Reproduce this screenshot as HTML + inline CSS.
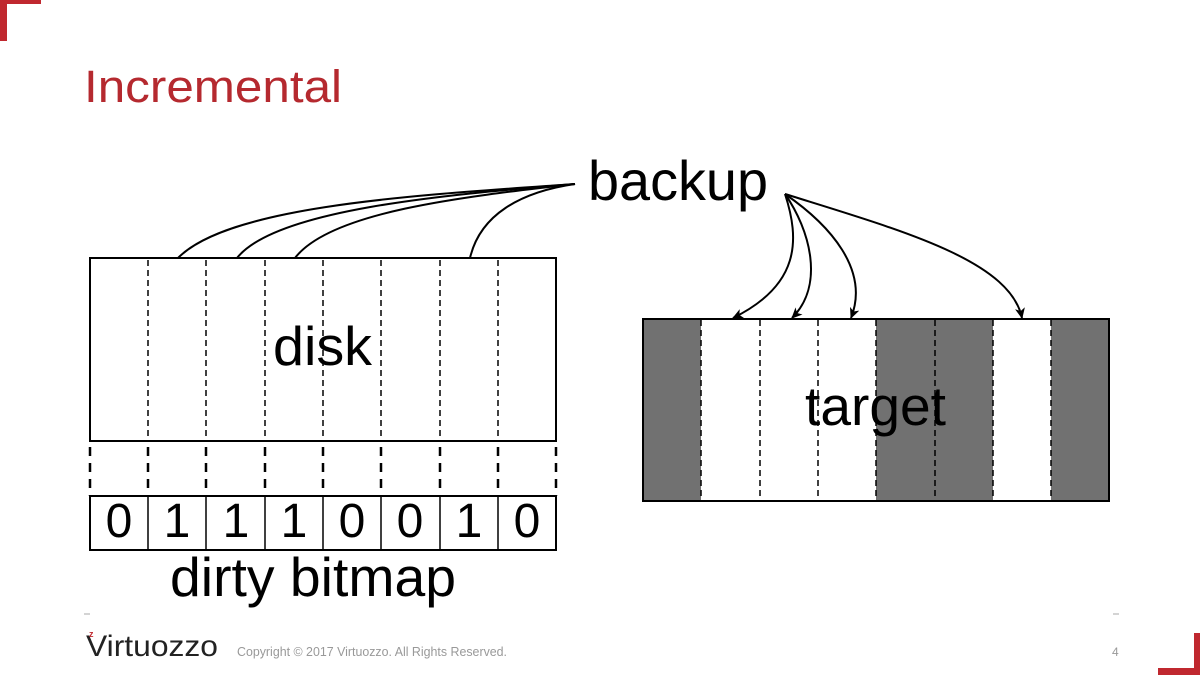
<!DOCTYPE html>
<html><head><meta charset="utf-8"><style>
html,body{margin:0;padding:0;background:#fff;}
svg{display:block;}
</style></head><body>
<svg width="1200" height="675" viewBox="0 0 1200 675" xmlns="http://www.w3.org/2000/svg">
<defs>
<marker id="ah" markerWidth="12" markerHeight="12" refX="10" refY="5" orient="auto" markerUnits="userSpaceOnUse">
<path d="M0,0 L11,5 L0,10 L3,5 Z" fill="#000"/>
</marker>
</defs>
<rect x="0" y="0" width="7" height="41" fill="#c0282f"/>
<rect x="0" y="0" width="41" height="4" fill="#c0282f"/>
<rect x="1194" y="633" width="6" height="42" fill="#c0282f"/>
<rect x="1158" y="668" width="42" height="7" fill="#c0282f"/>
<text x="84" y="102" font-family="Liberation Sans, sans-serif" font-size="45" fill="#b5292f" textLength="258" lengthAdjust="spacingAndGlyphs">Incremental</text>

<g stroke="#000" fill="none">
<rect x="90" y="258" width="466" height="183" stroke-width="2"/>
<g stroke-dasharray="6,4" stroke-width="1.5">
<line x1="148" y1="260" x2="148" y2="441"/><line x1="206" y1="260" x2="206" y2="441"/>
<line x1="265" y1="260" x2="265" y2="441"/><line x1="323" y1="260" x2="323" y2="441"/>
<line x1="381" y1="260" x2="381" y2="441"/><line x1="440" y1="260" x2="440" y2="441"/>
<line x1="498" y1="260" x2="498" y2="441"/>
</g>
<g stroke-dasharray="9,7" stroke-width="2.5">
<line x1="90" y1="447" x2="90" y2="496"/><line x1="148" y1="447" x2="148" y2="496"/>
<line x1="206" y1="447" x2="206" y2="496"/><line x1="265" y1="447" x2="265" y2="496"/>
<line x1="323" y1="447" x2="323" y2="496"/><line x1="381" y1="447" x2="381" y2="496"/>
<line x1="440" y1="447" x2="440" y2="496"/><line x1="498" y1="447" x2="498" y2="496"/>
<line x1="556" y1="447" x2="556" y2="496"/>
</g>
<rect x="90" y="496" width="466" height="54" stroke-width="2"/>
<g stroke-width="1.5">
<line x1="148" y1="496" x2="148" y2="550"/><line x1="206" y1="496" x2="206" y2="550"/>
<line x1="265" y1="496" x2="265" y2="550"/><line x1="323" y1="496" x2="323" y2="550"/>
<line x1="381" y1="496" x2="381" y2="550"/><line x1="440" y1="496" x2="440" y2="550"/>
<line x1="498" y1="496" x2="498" y2="550"/>
</g>
<g stroke-width="2">
<path d="M575,184 C420,195 230,205 178,258"/>
<path d="M575,184 C440,195 275,210 237,258"/>
<path d="M575,184 C460,197 330,212 295,258"/>
<path d="M575,184 C520,192 480,215 470,258"/>
</g>
</g>
<g font-family="Liberation Sans, sans-serif" fill="#000">
<text x="273" y="365" font-size="55" textLength="99" lengthAdjust="spacingAndGlyphs">disk</text>
<text x="119" y="537" font-size="48" text-anchor="middle">0</text>
<text x="177" y="537" font-size="48" text-anchor="middle">1</text>
<text x="236" y="537" font-size="48" text-anchor="middle">1</text>
<text x="294" y="537" font-size="48" text-anchor="middle">1</text>
<text x="352" y="537" font-size="48" text-anchor="middle">0</text>
<text x="410" y="537" font-size="48" text-anchor="middle">0</text>
<text x="469" y="537" font-size="48" text-anchor="middle">1</text>
<text x="527" y="537" font-size="48" text-anchor="middle">0</text>
<text x="170" y="596" font-size="55" textLength="286" lengthAdjust="spacingAndGlyphs">dirty bitmap</text>
<text x="588" y="200" font-size="56" textLength="180" lengthAdjust="spacingAndGlyphs">backup</text>
</g>

<rect x="643" y="319" width="58" height="182" fill="#717171"/>
<rect x="876" y="319" width="117" height="182" fill="#717171"/>
<rect x="1051" y="319" width="58" height="182" fill="#717171"/>
<g stroke="#000" fill="none">
<rect x="643" y="319" width="466" height="182" stroke-width="2"/>
<g stroke-dasharray="6,4" stroke-width="1.5">
<line x1="701" y1="320" x2="701" y2="500"/><line x1="760" y1="320" x2="760" y2="500"/>
<line x1="818" y1="320" x2="818" y2="500"/><line x1="876" y1="320" x2="876" y2="500"/>
<line x1="935" y1="320" x2="935" y2="500"/><line x1="993" y1="320" x2="993" y2="500"/>
<line x1="1051" y1="320" x2="1051" y2="500"/>
</g>
<g stroke-width="2" marker-end="url(#ah)">
<path d="M785,194 C800,240 800,285 733,318"/>
<path d="M785,194 C810,230 825,285 792,318"/>
<path d="M785,194 C830,225 870,270 851,318"/>
<path d="M785,194 C900,230 1010,260 1022,318"/>
</g>
</g>
<text x="805" y="425" font-family="Liberation Sans, sans-serif" font-size="55" fill="#000" textLength="141" lengthAdjust="spacingAndGlyphs">target</text>

<line x1="84" y1="614" x2="90" y2="614" stroke="#aaa" stroke-width="1"/>
<line x1="1113" y1="614" x2="1119" y2="614" stroke="#aaa" stroke-width="1"/>
<text x="86" y="656" font-family="Liberation Sans, sans-serif" font-size="30" fill="#222" textLength="132" lengthAdjust="spacingAndGlyphs">Virtuozzo</text>
<text x="89" y="637" font-family="Liberation Sans, sans-serif" font-size="9" font-weight="bold" fill="#c0282f">z</text>
<text x="237" y="656" font-family="Liberation Sans, sans-serif" font-size="12.5" fill="#999" textLength="270" lengthAdjust="spacingAndGlyphs">Copyright © 2017 Virtuozzo. All Rights Reserved.</text>
<text x="1112" y="656" font-family="Liberation Sans, sans-serif" font-size="12" fill="#999">4</text>
</svg>
</body></html>
